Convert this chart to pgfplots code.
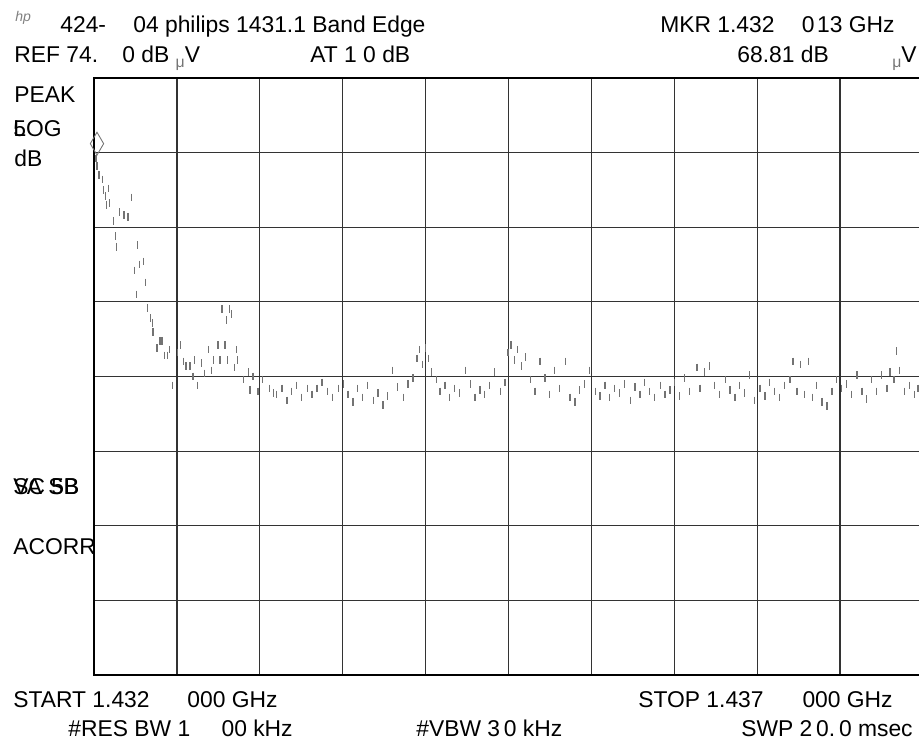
\documentclass[border=0pt]{standalone}
\usepackage{pgfplots}
\pgfplotsset{compat=1.18}
\usepackage{fontspec}
\setmainfont{Liberation Sans}
\usepackage{xcolor}

% trace read off the plotter output: offset from 1432 MHz, level in dBuV
\pgfplotstableread{
f    lvl
0.012 68.6
0.018 68.1
0.030 67.5
0.054 67.2
0.060 66.5
0.072 66.1
0.078 65.5
0.090 66.6
0.096 65.6
0.115 64.4
0.127 63.4
0.133 62.7
0.151 65.0
0.181 64.8
0.205 64.7
0.229 66.0
0.247 61.1
0.259 59.5
0.265 62.8
0.277 61.5
0.296 61.7
0.308 60.3
0.320 58.6
0.338 57.9
0.350 57.6
0.356 57.0
0.380 55.9
0.398 56.4
0.410 56.4
0.428 55.4
0.446 55.4
0.458 55.8
0.476 53.4
0.501 55.6
0.519 56.1
0.537 55.0
0.555 54.7
0.579 54.7
0.597 54.0
0.609 55.1
0.627 53.4
0.651 54.9
0.669 54.2
0.688 55.8
0.706 54.4
0.718 55.1
0.748 56.1
0.760 55.1
0.772 58.5
0.790 56.1
0.802 57.8
0.808 55.1
0.820 58.5
0.832 58.2
0.850 54.6
0.862 55.8
0.868 55.1
0.899 53.8
0.929 54.3
0.941 53.1
0.959 54.0
0.989 53.0
1.019 53.8
1.061 53.2
1.080 52.9
1.098 52.8
1.134 53.2
1.164 52.4
1.194 53.0
1.224 53.4
1.254 52.6
1.285 53.2
1.315 52.8
1.345 53.2
1.375 53.6
1.411 53.0
1.441 52.6
1.472 53.2
1.502 53.5
1.532 52.8
1.562 52.3
1.592 53.2
1.622 52.6
1.652 53.4
1.683 52.4
1.713 52.9
1.743 52.1
1.773 52.7
1.803 54.4
1.833 53.3
1.864 52.6
1.894 53.5
1.924 53.9
1.948 55.2
1.966 55.8
1.984 54.8
2.002 55.9
2.020 55.2
2.038 54.3
2.063 53.8
2.087 53.0
2.117 53.4
2.147 52.6
2.177 53.2
2.207 52.9
2.238 54.4
2.268 53.5
2.298 52.6
2.328 53.1
2.358 52.8
2.388 53.4
2.418 54.3
2.449 53.0
2.479 53.6
2.497 55.6
2.515 56.1
2.539 55.1
2.557 55.8
2.581 54.7
2.605 55.3
2.630 53.8
2.660 53.0
2.690 55.0
2.720 53.9
2.750 52.8
2.780 54.4
2.810 53.2
2.841 55.0
2.871 52.6
2.901 52.3
2.931 53.1
2.961 53.5
2.991 54.4
3.022 53.0
3.052 52.7
3.082 53.4
3.112 52.6
3.142 53.2
3.172 52.9
3.202 53.5
3.233 52.4
3.263 53.3
3.293 52.8
3.323 53.6
3.353 53.0
3.383 52.6
3.414 53.4
3.444 52.8
3.474 53.1
3.504 53.6
3.534 52.7
3.564 53.9
3.594 53.0
3.637 54.6
3.655 53.2
3.685 54.3
3.715 54.7
3.745 53.4
3.775 52.8
3.806 53.8
3.836 53.1
3.866 52.6
3.896 53.4
3.926 52.9
3.956 54.1
3.986 52.4
4.017 53.2
4.047 52.7
4.077 53.6
4.107 53.0
4.137 52.6
4.167 53.4
4.198 53.8
4.216 55.0
4.240 53.0
4.264 54.8
4.288 52.8
4.312 55.0
4.336 52.6
4.360 53.4
4.391 52.3
4.421 52.0
4.451 53.0
4.481 53.8
4.511 53.2
4.541 53.5
4.571 52.8
4.602 54.1
4.632 53.0
4.662 52.5
4.692 53.8
4.722 53.0
4.752 54.1
4.783 53.2
4.801 54.3
4.825 53.8
4.843 55.7
4.861 54.4
4.891 53.0
4.921 53.4
4.951 52.8
4.970 53.2
}\trace

\begin{document}
\begin{tikzpicture}[x=1cm,y=1cm,
  lbl/.style={anchor=base west,inner sep=0pt,font=\fontsize{13}{15}\selectfont},
  lblr/.style={anchor=base east,inner sep=0pt,font=\fontsize{13}{15}\selectfont}]
\newcommand\uV{{\fontsize{9}{9}\selectfont\raisebox{-2.5pt}{\color{black!55}μ}}V}
\begin{axis}[
  at={(1.88cm,1.46cm)},anchor=south west,
  width=16.58cm,height=11.94cm,scale only axis,
  xmin=0,xmax=5,ymin=34,ymax=74,
  xtick={0,0.5,...,5},ytick={34,39,...,74},
  xticklabels={},yticklabels={},
  major tick length=0pt,
  grid=major,
  grid style={black!80,line width=0.7pt},
  axis line style={black,line width=0.9pt},
  clip=false
]
\addplot[only marks,mark=|,mark size=2.2pt,black!55,mark options={line width=0.6pt}]
  table[x=f,y=lvl]{\trace};
\addplot[only marks,mark=diamond,mark size=6.5pt,black!55,
  mark options={line width=0.5pt,fill=none,xscale=0.78}]
  coordinates {(0.018,69.6)};
\end{axis}

% header
\node[lbl,text=black!50] at (0.30,14.52) {\fontsize{8}{8}\selectfont\itshape hp};
\node[lbl] at (1.20,14.30) {424-};
\node[lbl] at (2.66,14.30) {04 philips 1431.1 Band Edge};
\node[lbl] at (0.28,13.70) {REF 74.};
\node[lbl] at (2.44,13.70) {0 dB \uV};
\node[lbl] at (6.20,13.70) {AT 1 0 dB};
\node[lbl] at (13.20,14.30) {MKR 1.432};
\node[lblr] at (17.90,14.30) {0\kern1.5pt13 GHz};
\node[lbl] at (14.74,13.70) {68.81 dB};
\node[lbl] at (17.84,13.70) {\uV};

% left column
\node[lbl] at (0.28,12.90) {PEAK};
\node[lbl] at (0.26,12.22) {LOG};
\node[lbl] at (0.26,12.22) {5};
\node[lbl] at (0.28,11.62) {dB};
\node[lbl] at (0.26,5.06) {VA SB};
\node[lbl] at (0.26,5.06) {SC 5B};
\node[lbl] at (0.26,3.86) {ACORR};

% footer
\node[lbl] at (0.26,0.80) {START 1.432};
\node[lblr] at (5.56,0.80) {000 GHz};
\node[lbl] at (1.36,0.22) {\#RES BW 1};
\node[lblr] at (5.86,0.22) {00 kHz};
\node[lbl] at (8.32,0.22) {\#VBW 3\,0 kHz};
\node[lbl] at (12.76,0.80) {STOP 1.437};
\node[lblr] at (17.86,0.80) {000 GHz};
\node[lblr] at (18.26,0.22) {SWP 2\,0.\,0 msec};

\pgfresetboundingbox
\path[use as bounding box] (0,0) rectangle (18.38,14.96);
\end{tikzpicture}
\end{document}
